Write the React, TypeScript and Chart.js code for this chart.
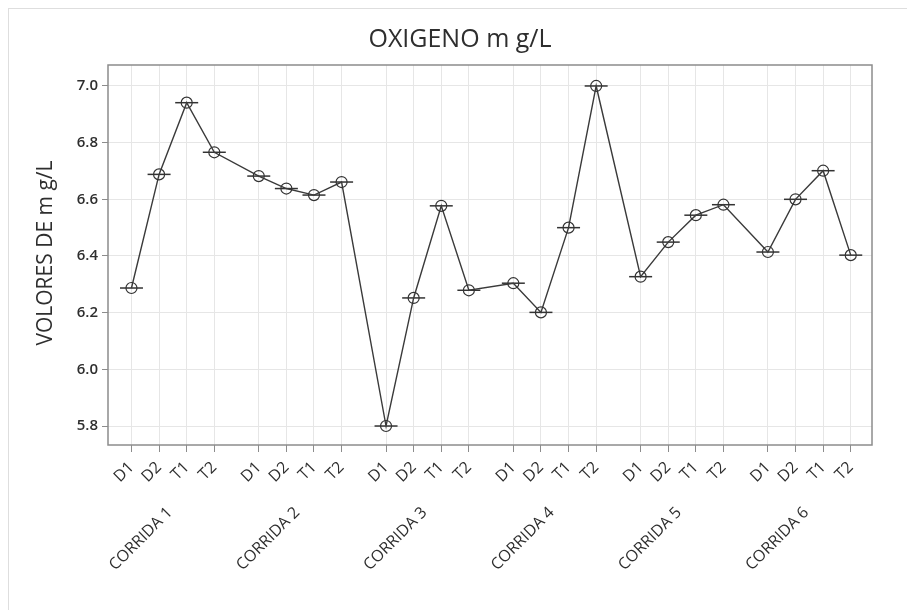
import React, { useEffect, useRef } from "react";
import { Chart, registerables } from "chart.js";

Chart.register(...registerables);

// Oxygen readings (mg/L) per run, in sample order D1, D2, T1, T2
const RUNS = ["CORRIDA 1", "CORRIDA 2", "CORRIDA 3", "CORRIDA 4", "CORRIDA 5", "CORRIDA 6"];
const SAMPLES = ["D1", "D2", "T1", "T2"];
const CORRIDA_1 = [6.287, 6.688, 6.941, 6.766];
const CORRIDA_2 = [6.682, 6.638, 6.615, 6.661];
const CORRIDA_3 = [5.8, 6.252, 6.577, 6.279];
const CORRIDA_4 = [6.304, 6.201, 6.5, 7.0];
const CORRIDA_5 = [6.327, 6.449, 6.544, 6.581];
const CORRIDA_6 = [6.414, 6.6, 6.701, 6.403];
const Y_TICKS = [5.8, 6.0, 6.2, 6.4, 6.6, 6.8, 7.0];

const TITLE = "OXIGENO m g/L";
const Y_TITLE = "VOLORES DE m g/L";

const RUN_VALUES = [CORRIDA_1, CORRIDA_2, CORRIDA_3, CORRIDA_4, CORRIDA_5, CORRIDA_6];

// horizontal distance (in sample units) from one run's first sample to the next
const STRIDE = 4.61;
const FONT = "'Open Sans', 'Noto Sans', sans-serif";

const points = RUN_VALUES.flatMap((vals, g) => vals.map((v, i) => ({ x: g * STRIDE + i, y: v })));
const xTickPositions = RUNS.flatMap((_, g) => SAMPLES.map((_, i) => g * STRIDE + i));

const decorPlugin = {
  id: "decor",
  beforeDraw(chart: Chart) {
    const { ctx, width, height } = chart;
    ctx.save();
    ctx.fillStyle = "#ffffff";
    ctx.fillRect(0, 0, width, height);
    ctx.strokeStyle = "#dedede";
    ctx.lineWidth = 1;
    ctx.strokeRect(8.5, 8.5, width + 20, height + 20);
    ctx.restore();
  },
  afterDraw(chart: Chart) {
    const { ctx, chartArea } = chart;
    const xs = chart.scales.x;
    ctx.save();
    // plot frame
    ctx.strokeStyle = "#8c8c8c";
    ctx.lineWidth = 1.5;
    ctx.strokeRect(chartArea.left, chartArea.top, chartArea.right - chartArea.left, chartArea.bottom - chartArea.top);

    // title
    ctx.fillStyle = "#2e2e2e";
    ctx.font = `500 25px ${FONT}`;
    ctx.textAlign = "center";
    ctx.textBaseline = "middle";
    ctx.fillText(TITLE, 460, 40);

    // y-axis title
    ctx.save();
    ctx.translate(46, 253);
    ctx.rotate(-Math.PI / 2);
    ctx.font = `500 21px ${FONT}`;
    ctx.fillText(Y_TITLE, 0, 0);
    ctx.restore();

    // run labels under each group of samples
    ctx.font = `500 16px ${FONT}`;
    ctx.textAlign = "right";
    ctx.textBaseline = "middle";
    RUNS.forEach((name, g) => {
      const cx = xs.getPixelForValue(g * STRIDE + 1.5);
      ctx.save();
      ctx.translate(cx - 3, 510);
      ctx.rotate(-Math.PI / 4);
      ctx.fillText(name, 0, 0);
      ctx.restore();
    });
    ctx.restore();
  },
};

export default function App() {
  const canvasRef = useRef<HTMLCanvasElement | null>(null);

  useEffect(() => {
    const canvas = canvasRef.current;
    if (!canvas) return;
    const chart = new Chart(canvas, {
      type: "line",
      data: {
        datasets: [
          {
            data: points,
            borderColor: "#3a3a3a",
            borderWidth: 1.4,
            pointStyle: "circle",
            pointRadius: 5.5,
            pointBorderColor: "#333333",
            pointBackgroundColor: "rgba(0,0,0,0)",
            pointBorderWidth: 1.2,
            tension: 0,
          },
          {
            data: points,
            showLine: false,
            pointStyle: "line",
            pointRadius: 11.5,
            pointBorderColor: "#333333",
            pointBorderWidth: 1.5,
          },
        ],
      },
      options: {
        animation: false,
        responsive: false,
        devicePixelRatio: 1,
        layout: { padding: { left: 0, top: 65, right: 35, bottom: 0 } },
        plugins: { legend: { display: false }, tooltip: { enabled: false }, title: { display: false } },
        scales: {
          x: {
            type: "linear",
            min: -0.85,
            max: 5 * STRIDE + 3 + 0.77,
            afterBuildTicks: (s: any) => {
              s.ticks = xTickPositions.map((v) => ({ value: v }));
            },
            afterFit: (s: any) => {
              s.height = 165;
            },
            border: { display: false },
            grid: { color: "#e6e6e6", tickColor: "#8c8c8c", tickLength: 7, lineWidth: 1 },
            ticks: {
              autoSkip: false,
              minRotation: 45,
              maxRotation: 45,
              padding: 6,
              color: "#2e2e2e",
              font: { family: FONT, size: 16, weight: "500" },
              callback: (_v: any, i: number) => SAMPLES[i % SAMPLES.length],
            },
          },
          y: {
            type: "linear",
            min: 5.733,
            max: 7.074,
            afterBuildTicks: (s: any) => {
              s.ticks = Y_TICKS.map((v) => ({ value: v }));
            },
            afterFit: (s: any) => {
              s.width = 108;
            },
            border: { display: false },
            grid: { color: "#e6e6e6", tickColor: "#8c8c8c", tickLength: 6, lineWidth: 1 },
            ticks: {
              padding: 4,
              color: "#2e2e2e",
              font: { family: FONT, size: 15, weight: "600" },
              callback: (v: any) => Number(v).toFixed(1),
            },
          },
        },
      },
      plugins: [decorPlugin],
    });
    return () => chart.destroy();
  }, []);

  return (
    <div style={{ position: "fixed", left: 0, top: 0, width: 907, height: 610, background: "#fff" }}>
      <canvas ref={canvasRef} width={907} height={610} style={{ display: "block" }} />
    </div>
  );
}
